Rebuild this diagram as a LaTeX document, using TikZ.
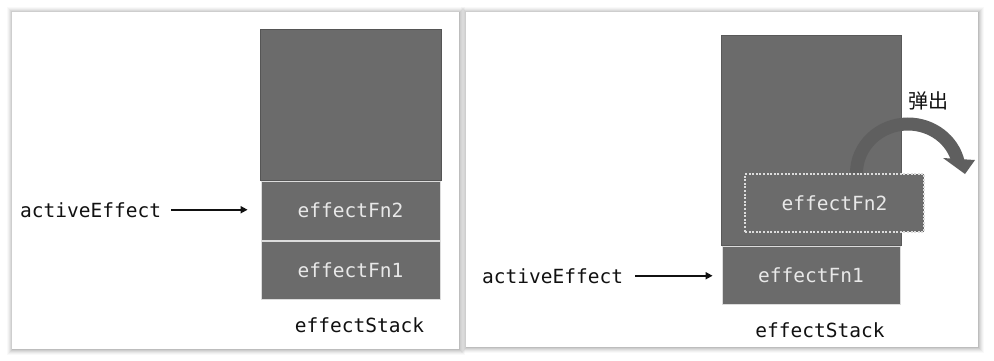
\documentclass[tikz,border=0pt]{standalone}
\usepackage{fontspec}
\setmonofont{DejaVu Sans Mono}
\newfontfamily\cjkfont{Noto Sans CJK SC}
\usetikzlibrary{arrows.meta}
\definecolor{boxgray}{HTML}{6B6B6B}
\definecolor{boxtext}{HTML}{E8E8E8}
\definecolor{edgelight}{HTML}{DCDCDC}
\definecolor{edgedark}{HTML}{555555}
\definecolor{arcgray}{HTML}{5F5F5F}
\definecolor{ink}{HTML}{111111}

\begin{document}
\begin{tikzpicture}[x=1pt,y=-1pt,
  codefont/.style={font=\ttfamily\fontsize{19.5}{23}\selectfont},
  label/.style={codefont, text=ink, inner sep=0pt},
  cell/.style={codefont, text=boxtext, fill=boxgray, draw=edgelight, line width=0.8pt, inner sep=0pt},
  emptycell/.style={fill=boxgray, draw=edgedark, line width=0.8pt, inner sep=0pt},
  popped/.style={codefont, text=boxtext, fill=boxgray, draw=edgelight, line width=1.2pt,
    dash pattern=on 2pt off 1.6pt, inner sep=0pt},
  pointer/.style={draw=ink, line width=1.8pt, -{Triangle[length=7pt,width=7pt]}},
]
\useasboundingbox (0,0) rectangle (994,360);
\fill[white] (0,0) rectangle (994,360);

% soft shadows under the two cards
\foreach \r/\o in {6/0.025,5/0.03,4/0.04,3/0.05,2/0.06,1/0.08} {
  \fill[black, opacity=\o] (12-\r+1,12-\r+1) rectangle (459+\r,349+\r);
  \fill[black, opacity=\o] (466-\r+1,12-\r+1) rectangle (978+\r,347+\r);
}
\fill[white] (12,12) rectangle (459,349);
\fill[white] (466,12) rectangle (978,347);

% ---- left card: effectFn2 on top of the stack
\node[emptycell, minimum width=181pt, minimum height=151pt] (topA) at (350.5,104.5) {};
\node[cell, minimum width=179pt, minimum height=59pt] (fn2a) at (350.5,210.5) {effectFn2};
\node[cell, minimum width=179pt, minimum height=58pt] (fn1a) at (350.5,270) {effectFn1};
\node[label, anchor=base west] (aeA) at (20,217) {activeEffect};
\node[label, anchor=base] (stackA) at (359.5,332) {effectStack};
\draw[pointer, shorten <=10pt, shorten >=13pt] (aeA.east) -- (aeA.east -| fn2a.west);

% ---- right card: effectFn2 popped off the stack
\node[emptycell, draw=edgedark!80!boxgray, minimum width=180pt, minimum height=210pt] (topB) at (811,140) {};
\node[cell, minimum width=178pt, minimum height=58pt] (fn1b) at (811,275) {effectFn1};

% curved "pop" arrow
\draw[arcgray, line width=13pt] (856.5,173) coordinate (arcstart)
  arc[start angle=180, end angle=347, x radius=51.5, y radius=49] coordinate (arcend);
\fill[arcgray] (943,158) -- (975,160) -- (965,174) -- cycle;

\node[popped, minimum width=179pt, minimum height=58pt] (fn2b) at (834.5,203) {effectFn2};
\node[label, anchor=base west] (aeB) at (482,283) {activeEffect};
\node[label, anchor=base] (stackB) at (820,337) {effectStack};
\node[text=ink, inner sep=0pt, font=\cjkfont\fontsize{20}{24}\selectfont] (pop) at (928,101) {弹出};
\draw[pointer, shorten <=12pt, shorten >=9pt] (aeB.east) -- (aeB.east -| fn1b.west);
\end{tikzpicture}
\end{document}
